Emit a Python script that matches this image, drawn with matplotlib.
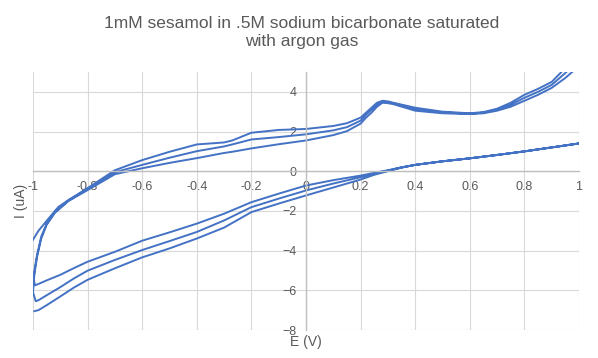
import numpy as np
import matplotlib
matplotlib.use("Agg")
import matplotlib.pyplot as plt

plt.rcParams['font.family'] = ['Liberation Sans', 'DejaVu Sans']

# Lower (cathodic-side) branch, scanned from -1 V to +1 V
e_low = [-0.98, -0.95, -0.9, -0.85, -0.8, -0.7, -0.6, -0.5, -0.4, -0.3, -0.2, -0.1, 0.0,
         0.1, 0.2, 0.25, 0.3, 0.35, 0.4, 0.5, 0.6, 0.7, 0.8, 0.9, 1.0, 1.03]
i_low_1 = [-7.0, -6.75, -6.31, -5.86, -5.47, -4.89, -4.34, -3.89, -3.39, -2.84, -2.06, -1.63, -1.22,
           -0.82, -0.42, -0.18, 0.0, 0.18, 0.32, 0.5, 0.65, 0.82, 1.0, 1.2, 1.4, 1.45]
i_low_2 = [-6.5, -6.25, -5.84, -5.4, -5.01, -4.47, -3.97, -3.52, -3.06, -2.48, -1.81, -1.38, -0.97,
           -0.62, -0.3, -0.12, 0.03, 0.19, 0.32, 0.5, 0.65, 0.82, 1.0, 1.2, 1.4, 1.45]
i_low_3 = [-5.68, -5.5, -5.22, -4.88, -4.56, -4.06, -3.5, -3.08, -2.64, -2.14, -1.56, -1.13, -0.72,
           -0.45, -0.22, -0.08, 0.05, 0.2, 0.32, 0.5, 0.65, 0.82, 1.0, 1.2, 1.4, 1.45]

# Upper branch, scanned back from +1 V to -0.87 V
e_up = [1.03, 1.0, 0.95, 0.9, 0.85, 0.8, 0.75, 0.7, 0.65, 0.6, 0.5, 0.4, 0.32, 0.3, 0.28,
        0.26, 0.24, 0.22, 0.2, 0.15, 0.1, 0.0, -0.1, -0.2, -0.27, -0.3, -0.4, -0.5, -0.6,
        -0.7, -0.8, -0.87]
i_up_1 = [5.7, 5.3, 4.7, 4.2, 3.85, 3.55, 3.25, 3.05, 2.92, 2.88, 2.92, 3.05, 3.38, 3.43, 3.45,
          3.25, 2.95, 2.7, 2.4, 2.02, 1.82, 1.55, 1.36, 1.15, 0.98, 0.92, 0.66, 0.42, 0.15,
          -0.15, -0.95, -1.5]
i_up_2 = [6.1, 5.6, 4.95, 4.35, 4.0, 3.7, 3.35, 3.1, 2.95, 2.9, 2.96, 3.12, 3.42, 3.48, 3.5,
          3.35, 3.1, 2.85, 2.55, 2.22, 2.06, 1.86, 1.72, 1.6, 1.35, 1.25, 1.01, 0.68, 0.32,
          -0.05, -0.9, -1.47]
i_up_3 = [6.5, 6.0, 5.2, 4.5, 4.15, 3.85, 3.45, 3.15, 2.98, 2.92, 3.0, 3.2, 3.45, 3.52, 3.55,
          3.45, 3.2, 2.95, 2.7, 2.42, 2.28, 2.13, 2.08, 1.94, 1.55, 1.45, 1.35, 0.98, 0.56,
          0.05, -0.85, -1.45]

# Steep return to -1 V and the end of the scan
e_start = [-0.995]
i_start = [-7.05]
e_turn_1 = [-0.92, -0.95, -0.97, -0.985, -0.995, -1.0, -0.99]
i_turn_1 = [-2.1, -2.7, -3.4, -4.3, -5.2, -6.1, -6.55]
e_turn_2 = [-0.92, -0.95, -0.97, -0.985, -0.995, -0.997, -0.993]
i_turn_2 = [-2.05, -2.65, -3.3, -4.2, -5.0, -5.45, -5.75]
e_end = [-0.907, -0.944, -0.98, -1.0]
i_end = [-1.8, -2.4, -3.0, -3.45]

x_ticks = [-1, -0.8, -0.6, -0.4, -0.2, 0, 0.2, 0.4, 0.6, 0.8, 1]
x_tick_labels = ['-1', '-0.8', '-0.6', '-0.4', '-0.2', '0', '0.2', '0.4', '0.6', '0.8', '1']
y_ticks = [-8, -6, -4, -2, 0, 2, 4]

E = np.concatenate([e_start, e_low, e_up, e_turn_1, e_low, e_up, e_turn_2, e_low, e_up, e_end])
I = np.concatenate([i_start, i_low_1, i_up_1, i_turn_1, i_low_2, i_up_2, i_turn_2, i_low_3, i_up_3, i_end])

text_color = '#595959'

fig = plt.figure(figsize=(5.98, 3.58), dpi=100)
ax = fig.add_axes([0.0552, 0.0782, 0.913, 0.7207])

ax.plot(E, I, color='#4472C4', lw=1.4, solid_joinstyle='round')

ax.set_xlim(-1, 1)
ax.set_ylim(-8, 5)
ax.set_xticks(x_ticks)
ax.set_xticklabels(x_tick_labels)
ax.set_yticks(y_ticks)

ax.spines['left'].set_position(('data', 0))
ax.spines['bottom'].set_position(('data', 0))
for s in ['left', 'bottom']:
    ax.spines[s].set_color('#BFBFBF')
    ax.spines[s].set_linewidth(1.0)
ax.spines['top'].set_visible(False)
ax.spines['right'].set_visible(False)

ax.grid(True, color='#D9D9D9', lw=0.8)
ax.set_axisbelow(True)
ax.tick_params(length=0, labelsize=9, labelcolor=text_color)
ax.tick_params(axis='x', pad=7)
ax.tick_params(axis='y', pad=7)

fig.text(0.505, 0.955, '1mM sesamol in .5M sodium bicarbonate saturated\nwith argon gas',
         ha='center', va='top', fontsize=12.5, color=text_color, linespacing=1.2)
fig.text(0.512, 0.046, 'E (V)', ha='center', va='center', fontsize=10, color=text_color)
fig.text(0.035, 0.44, 'I (uA)', ha='center', va='center', rotation=90, fontsize=10,
         color=text_color)

fig.savefig('out.png', dpi=100)
